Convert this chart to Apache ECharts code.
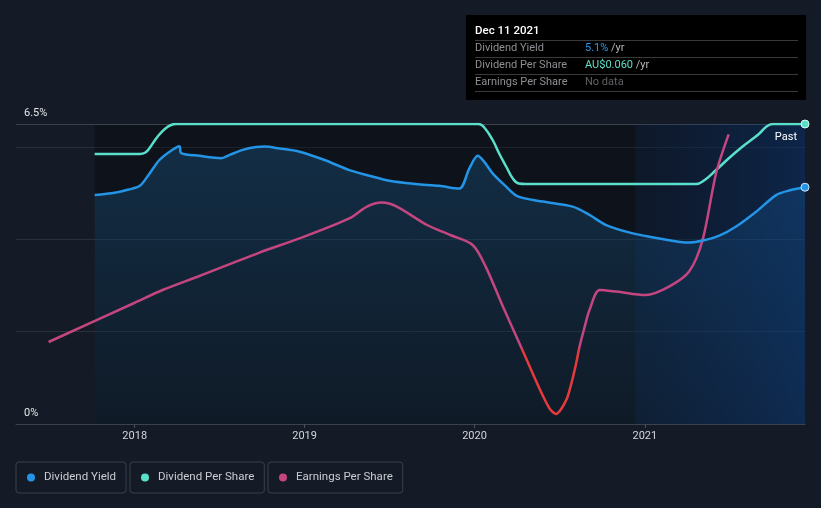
<!DOCTYPE html>
<html>
<head>
<meta charset="utf-8">
<script src="https://cdn.jsdelivr.net/npm/echarts@6/dist/echarts.min.js"></script>
<style>
  html, body { margin: 0; padding: 0; background: #151b26; }
  #chart { width: 821px; height: 508px; }
</style>
</head>
<body>
<div id="chart"></div>
<script>
// ---- Data ----
const axisStart = '2017-04-21';
const axisEnd = '2021-12-11';
const pastStart = '2020-12-11';
const tickYears = ['2018-01-01', '2019-01-01', '2020-01-01', '2021-01-01'];
const yLabelValues = [0, 6.5];
const yTopLine = 6.5;

// Dividend yield, %
const dividendYield = [
  ['2017-10-07', 4.96], ['2017-11-19', 5.01], ['2017-12-19', 5.08], ['2018-01-12', 5.16],
  ['2018-02-02', 5.43], ['2018-02-23', 5.72], ['2018-03-17', 5.90], ['2018-04-07', 6.02],
  ['2018-04-11', 5.87], ['2018-05-20', 5.81], ['2018-07-06', 5.76], ['2018-07-24', 5.83],
  ['2018-08-21', 5.94], ['2018-09-19', 6.00], ['2018-10-07', 6.01], ['2018-11-08', 5.97],
  ['2018-12-21', 5.90], ['2019-02-13', 5.72], ['2019-04-07', 5.50], ['2019-05-20', 5.38],
  ['2019-07-02', 5.27], ['2019-08-28', 5.20], ['2019-10-17', 5.16], ['2019-11-29', 5.10],
  ['2019-12-21', 5.54], ['2020-01-08', 5.81], ['2020-01-22', 5.68], ['2020-02-09', 5.43],
  ['2020-03-05', 5.18], ['2020-04-03', 4.93], ['2020-05-27', 4.82], ['2020-07-30', 4.71],
  ['2020-09-04', 4.53], ['2020-10-10', 4.31], ['2020-12-06', 4.13], ['2021-02-01', 4.02],
  ['2021-04-06', 3.93], ['2021-05-12', 3.99], ['2021-06-10', 4.08], ['2021-07-16', 4.28],
  ['2021-08-28', 4.60], ['2021-10-10', 4.96], ['2021-11-07', 5.06], ['2021-12-11', 5.13]
];

// Dividend per share, AU$
const dividendPerShare = [
  ['2017-10-07', 0.054], ['2018-01-12', 0.054], ['2018-01-24', 0.0543], ['2018-02-02', 0.0552],
  ['2018-02-13', 0.0567], ['2018-02-23', 0.0579], ['2018-03-08', 0.0591], ['2018-03-20', 0.0598],
  ['2018-03-31', 0.060], ['2020-01-10', 0.060], ['2020-01-22', 0.0593], ['2020-02-09', 0.0568],
  ['2020-02-23', 0.0541], ['2020-03-09', 0.0515], ['2020-03-24', 0.0490], ['2020-04-05', 0.0481],
  ['2020-04-20', 0.048], ['2021-04-21', 0.048], ['2021-05-08', 0.0487], ['2021-06-03', 0.0508],
  ['2021-07-01', 0.0532], ['2021-07-30', 0.0555], ['2021-09-03', 0.0580], ['2021-09-18', 0.0594],
  ['2021-10-02', 0.060], ['2021-12-11', 0.060]
];

// Earnings per share, AU$
const earningsPerShare = [
  ['2017-06-30', 0.003], ['2017-12-31', 0.0225], ['2018-03-02', 0.029], ['2018-05-20', 0.036],
  ['2018-09-26', 0.0477], ['2018-12-21', 0.0548], ['2019-04-07', 0.0648], ['2019-05-15', 0.0707],
  ['2019-06-16', 0.0727], ['2019-07-18', 0.0707], ['2019-09-21', 0.0615], ['2019-11-10', 0.0565],
  ['2019-12-28', 0.0515], ['2020-01-25', 0.0407], ['2020-03-02', 0.0207], ['2020-04-11', 0.0],
  ['2020-05-21', -0.021], ['2020-06-10', -0.0302], ['2020-06-17', -0.032], ['2020-06-24', -0.033],
  ['2020-07-01', -0.0318], ['2020-07-08', -0.0295], ['2020-07-18', -0.025], ['2020-07-29', -0.016],
  ['2020-08-07', -0.007], ['2020-08-13', 0.0], ['2020-08-24', 0.010], ['2020-09-04', 0.019],
  ['2020-09-26', 0.029], ['2020-11-01', 0.0282], ['2021-01-03', 0.0265], ['2021-02-22', 0.0307],
  ['2021-04-06', 0.0382], ['2021-05-05', 0.054], ['2021-06-03', 0.0874], ['2021-06-30', 0.1068]
];

// ---- Styles ----
const C_DY = '#2394e6';
const C_DPS = '#5ae0ca';
const C_EPS = '#c4457f';
const C_EPS_NEG = '#e5393d';
const REG = "'Roboto', 'Noto Sans', sans-serif";

const chart = echarts.init(document.getElementById('chart'), null, { renderer: 'canvas' });
const parse = (d) => echarts.time.parse(d).getTime();
const toTs = (arr) => arr.map((p) => [parse(p[0]), p[1]]);
const yearTickValues = tickYears.map(parse);
const dyData = toTs(dividendYield);
const dpsData = toTs(dividendPerShare);
const epsData = toTs(earningsPerShare);

const lastDY = dividendYield[dividendYield.length - 1];
const lastDPS = dividendPerShare[dividendPerShare.length - 1];
const months = ['Jan','Feb','Mar','Apr','May','Jun','Jul','Aug','Sep','Oct','Nov','Dec'];
const endD = echarts.time.parse(axisEnd);
const titleText = months[endD.getMonth()] + ' ' + endD.getDate() + ' ' + endD.getFullYear();

function withLastSymbol(data, color, border) {
  return data.map((p, i) => i === data.length - 1
    ? { value: p, symbol: 'circle', symbolSize: 8, itemStyle: { color: color, borderColor: border, borderWidth: 1 } }
    : { value: p, symbol: 'none' });
}

function legendCfg(name, left, color) {
  return {
    data: [{ name: name, itemStyle: { color: color } }],
    left: left, top: 462,
    orient: 'horizontal',
    icon: 'circle', itemWidth: 8, itemHeight: 8,
    padding: [8, 10, 8, 11],
    borderColor: '#3a404b', borderWidth: 1, borderRadius: 3,
    textStyle: { color: '#c9ccd1', fontSize: 11.5, fontFamily: REG, lineHeight: 15, padding: [0, 0, 0, 4] },
    selectedMode: false
  };
}

const option = {
  animation: false,
  backgroundColor: '#151b26',
  grid: { left: 16, right: 16, top: 124, bottom: 84, containLabel: false },
  legend: [
    legendCfg('Dividend Yield', 16, C_DY),
    legendCfg('Dividend Per Share', 130, C_DPS),
    legendCfg('Earnings Per Share', 268, C_EPS)
  ],
  xAxis: {
    type: 'value',
    min: parse(axisStart), max: parse(axisEnd),
    axisLine: { show: true, lineStyle: { color: '#3d434d', width: 1 } },
    axisTick: { show: true, customValues: yearTickValues, length: 4, lineStyle: { color: '#4b515b' } },
    axisLabel: {
      customValues: yearTickValues,
      formatter: (v) => String(new Date(v).getFullYear()),
      color: '#d3d6db', fontSize: 11, fontFamily: REG, margin: 7
    },
    splitLine: { show: false }
  },
  yAxis: [
    {
      type: 'value', min: 0, max: 6.5, interval: 2,
      axisLine: { show: false }, axisTick: { show: false },
      axisLabel: {
        inside: true, margin: 8, verticalAlign: 'bottom', padding: [0, 0, 5, 0],
        color: '#e4e6ea', fontSize: 11, fontFamily: REG,
        formatter: (v) => (yLabelValues.indexOf(v) >= 0 ? v + '%' : '')
      },
      splitLine: { show: true, lineStyle: { color: '#2b313b', width: 1 } }
    },
    { type: 'value', min: 0, max: 0.06, show: false, splitLine: { show: false } },
    { type: 'value', min: -0.038, max: 0.112, show: false, splitLine: { show: false } }
  ],
  visualMap: [{
    type: 'piecewise', show: false, seriesIndex: 2, dimension: 1,
    pieces: [{ min: -1, max: 0, color: C_EPS_NEG }, { min: 0, max: 1, color: C_EPS }]
  }],
  series: [
    {
      name: 'DY area', type: 'line', yAxisIndex: 0, z: 2,
      data: dyData, smooth: 0.3, symbol: 'none',
      lineStyle: { width: 0 },
      areaStyle: {
        color: new echarts.graphic.LinearGradient(0, 0, 0, 1, [
          { offset: 0, color: 'rgba(35,148,230,0.30)' },
          { offset: 1, color: 'rgba(35,148,230,0.09)' }
        ])
      },
      markArea: {
        silent: true, z: 1,
        itemStyle: { color: 'rgba(0,0,0,0.3)' },
        data: [[{ xAxis: dyData[0][0] }, { xAxis: parse(axisEnd) }]]
      },
      markLine: {
        silent: true, z: 2, symbol: 'none', label: { show: false },
        lineStyle: { color: '#3c424c', width: 1, type: 'solid' },
        data: [{ yAxis: yTopLine }]
      }
    },
    {
      name: 'Dividend Per Share', type: 'line', yAxisIndex: 1, z: 4,
      data: withLastSymbol(dpsData, C_DPS, '#d8fff6'), smooth: 0.4,
      symbol: 'none',
      itemStyle: { color: C_DPS },
      lineStyle: { color: C_DPS, width: 2.5 }
    },
    {
      name: 'Earnings Per Share', type: 'line', yAxisIndex: 2, z: 4,
      data: epsData, smooth: 0.3, symbol: 'none',
      itemStyle: { color: C_EPS },
      lineStyle: { width: 2.5 }
    },
    {
      name: 'Dividend Yield', type: 'line', yAxisIndex: 0, z: 5,
      data: withLastSymbol(dyData, C_DY, '#cfe8ff'), smooth: 0.3,
      symbol: 'none',
      itemStyle: { color: C_DY },
      lineStyle: { color: C_DY, width: 2.5 },
      markArea: {
        silent: true, z: 3,
        itemStyle: {
          color: new echarts.graphic.LinearGradient(0, 0, 1, 0, [
            { offset: 0, color: 'rgba(12,60,130,0.14)' },
            { offset: 1, color: 'rgba(12,70,150,0.38)' }
          ])
        },
        label: {
          show: true, position: 'insideTopRight', distance: 6, offset: [-2, 2],
          formatter: 'Past', color: '#ffffff', fontSize: 11, fontFamily: REG
        },
        data: [[{ xAxis: parse(pastStart) }, { xAxis: parse(axisEnd) }]]
      }
    }
  ],
  graphic: [
    { type: 'rect', shape: { x: 466, y: 15, width: 340, height: 85 }, style: { fill: '#000000' }, z: 10 },
    { type: 'text', x: 475, y: 31, z: 11, style: { text: titleText, fill: '#ffffff', font: '500 11.5px ' + REG, verticalAlign: 'middle' } },
    { type: 'line', z: 11, shape: { x1: 475, y1: 40.5, x2: 798, y2: 40.5 }, style: { stroke: '#3a3a3a', lineWidth: 1 } },
    { type: 'line', z: 11, shape: { x1: 475, y1: 57.5, x2: 798, y2: 57.5 }, style: { stroke: '#3a3a3a', lineWidth: 1 } },
    { type: 'line', z: 11, shape: { x1: 475, y1: 74.5, x2: 798, y2: 74.5 }, style: { stroke: '#3a3a3a', lineWidth: 1 } },
    { type: 'line', z: 11, shape: { x1: 475, y1: 91.5, x2: 798, y2: 91.5 }, style: { stroke: '#3a3a3a', lineWidth: 1 } },
    { type: 'text', x: 475, y: 48.5, z: 11, style: { text: 'Dividend Yield', fill: '#8d8f93', font: '11px ' + REG, verticalAlign: 'middle' } },
    { type: 'text', x: 475, y: 65.5, z: 11, style: { text: 'Dividend Per Share', fill: '#8d8f93', font: '11px ' + REG, verticalAlign: 'middle' } },
    { type: 'text', x: 475, y: 82.5, z: 11, style: { text: 'Earnings Per Share', fill: '#8d8f93', font: '11px ' + REG, verticalAlign: 'middle' } },
    { type: 'text', x: 585, y: 48.5, z: 11, style: {
        text: '{a|' + lastDY[1].toFixed(1) + '%}{b| /yr}', font: '11px ' + REG, verticalAlign: 'middle',
        rich: { a: { fill: '#2a9af0', font: '11px ' + REG }, b: { fill: '#b4b6ba', font: '11px ' + REG } } } },
    { type: 'text', x: 585, y: 65.5, z: 11, style: {
        text: '{a|AU$' + lastDPS[1].toFixed(3) + '}{b| /yr}', font: '11px ' + REG, verticalAlign: 'middle',
        rich: { a: { fill: '#5ee0c8', font: '11px ' + REG }, b: { fill: '#b4b6ba', font: '11px ' + REG } } } },
    { type: 'text', x: 585, y: 82.5, z: 11, style: { text: 'No data', fill: '#5f6165', font: '11px ' + REG, verticalAlign: 'middle' } }
  ]
};

chart.setOption(option);
</script>
</body>
</html>
